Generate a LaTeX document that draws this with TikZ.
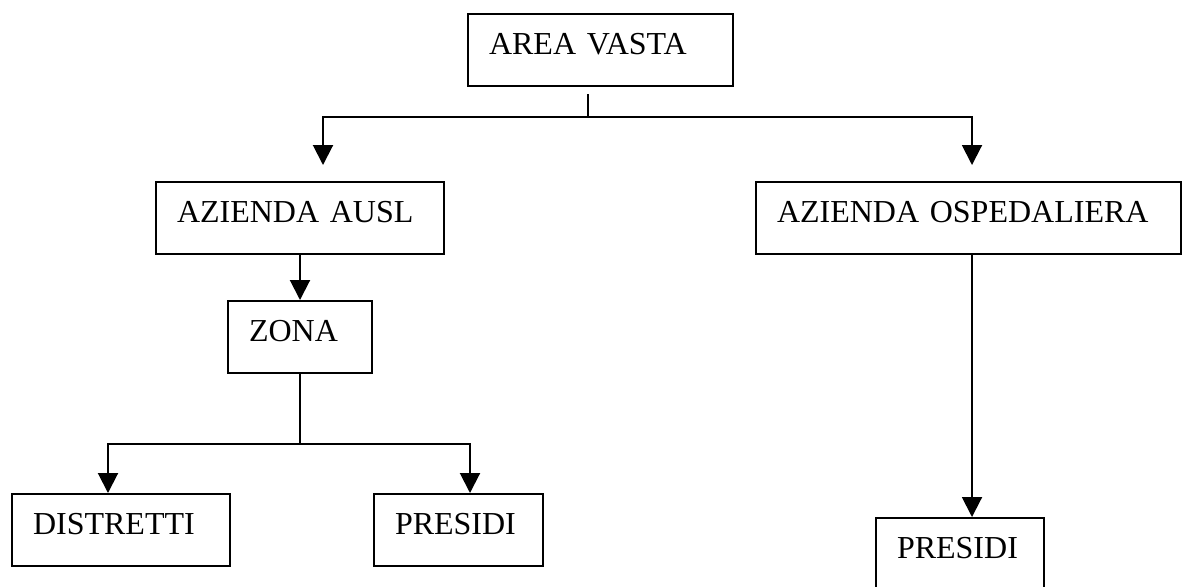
\documentclass[tikz,border=0pt]{standalone}
\usepackage{fontspec}
\setmainfont{Liberation Serif}
\usetikzlibrary{arrows.meta,positioning}

\begin{document}
\begin{tikzpicture}[x=0.5pt, y=-0.5pt, font=\fontsize{16pt}{19pt}\selectfont,
  box/.style={draw, line width=1pt, anchor=north west, inner xsep=10.5pt, inner ysep=0pt,
    text height=20pt, text depth=16pt, align=left},
  link/.style={line width=1pt},
  arr/.style={link, -{Triangle[length=10pt, width=10pt]}}]
\useasboundingbox (0,0) rectangle (1182,586);

\node[box, text width=111.5pt] (area) at (467,13) {AREA VASTA};
\node[box, text width=123pt] (ausl) at (155,181) {AZIENDA AUSL};
\node[box, text width=51pt] (zona) at (227,300) {ZONA};
\node[box, text width=88pt] (distretti) at (11,493) {DISTRETTI};
\node[box, text width=63.5pt] (presidi1) at (373,493) {PRESIDI};
\node[box, text width=191.5pt] (osp) at (755,181) {AZIENDA OSPEDALIERA};
\node[box, text width=63pt] (presidi2) at (875,517) {PRESIDI};

\coordinate (stub) at (588,94);
\coordinate (split) at (588,117);
\coordinate (toausl) at (323,165);
\coordinate (toosp) at (972,165);
\coordinate (fork) at (zona.south |- 0,444);
\coordinate (todistretti) at (108,493);
\coordinate (topresidi1) at (470,493);
\coordinate (topresidi2) at (972,517);

\draw[link] (stub) -- (split);
\draw[arr] (split) -| (toausl);
\draw[arr] (split) -| (toosp);
\draw[arr] (ausl.south) -- (zona.north);
\draw[link] (zona.south) -- (fork);
\draw[arr] (fork) -| (todistretti);
\draw[arr] (fork) -| (topresidi1);
\draw[arr] (osp.south -| topresidi2) -- (topresidi2);
\end{tikzpicture}
\end{document}
